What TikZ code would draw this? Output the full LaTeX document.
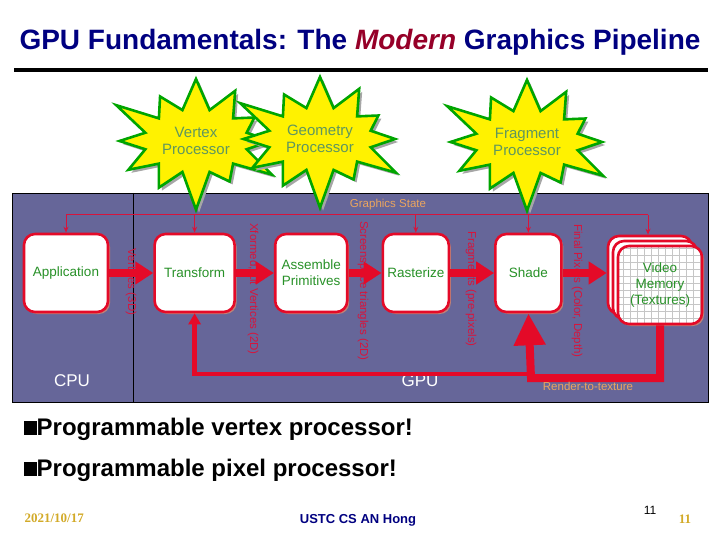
\documentclass[tikz,border=0pt]{standalone}
\usepackage{fontspec}
\setmainfont{Liberation Sans}
\newfontfamily\datefont{Liberation Serif}
\usetikzlibrary{arrows.meta,positioning,shapes.symbols,shadows}

\begin{document}
\begin{tikzpicture}[
    x=1pt, y=-1pt,
    >=Stealth,
    panel/.style={
        draw=black,
        line width=0.8pt,
        fill=panelblue,
        minimum width=696pt,
        minimum height=209pt,
        inner sep=0pt
    },
    stage/.style={
        draw=boxred,
        fill=white,
        line width=2.6pt,
        rounded corners=11pt,
        minimum width=80pt,
        minimum height=78pt,
        align=center,
        text=boxgreen,
        font=\fontsize{13.5}{16}\selectfont,
        drop shadow={shadow xshift=2pt, shadow yshift=-2pt, fill=shadowtan, opacity=1}
    },
    burst/.style={
        starburst,
        starburst points=12,
        starburst point height=42pt,
        fill=yellow,
        draw=burstgreen,
        line width=2.6pt,
        minimum width=150pt,
        minimum height=148pt,
        align=center,
        text=bursttext,
        font=\fontsize{15}{17}\selectfont,
        drop shadow={shadow xshift=3pt, shadow yshift=-3pt, fill=gray!70, opacity=1}
    },
    flowlabel/.style={
        rotate=-90,
        text=linered,
        font=\fontsize{11.5}{13}\selectfont
    },
    note/.style={
        text=noteorange,
        font=\fontsize{11.5}{13}\selectfont
    },
    bus/.style={
        draw=linered,
        line width=1pt
    },
    fatarrow/.style={
        draw=boxred,
        line width=7.5pt,
        -{Triangle[length=18pt,width=22pt]}
    },
    bullet/.style={
        anchor=west,
        font=\fontsize{24}{28}\selectfont\bfseries
    }
]

\definecolor{titlenavy}{RGB}{0,0,128}
\definecolor{modernred}{RGB}{150,0,40}
\definecolor{panelblue}{RGB}{102,102,153}
\definecolor{boxred}{RGB}{228,10,40}
\definecolor{linered}{RGB}{215,20,60}
\definecolor{boxgreen}{RGB}{40,145,40}
\definecolor{shadowtan}{RGB}{190,130,120}
\definecolor{burstgreen}{RGB}{0,165,0}
\definecolor{bursttext}{RGB}{95,150,95}
\definecolor{noteorange}{RGB}{235,165,95}
\definecolor{dategold}{RGB}{210,170,40}

\useasboundingbox (0,0) rectangle (720,540);

% title and rule
\node (title) at (360,42) {\fontsize{28}{32}\selectfont\bfseries\color{titlenavy}GPU Fundamentals: The \textcolor{modernred}{\itshape Modern} Graphics Pipeline};
\coordinate (ruleL) at (14,70);
\coordinate (ruleR) at (708,70);
\draw[line width=4pt] (ruleL) -- (ruleR);

% the board
\node[panel] (board) at (360,297.5) {};
\coordinate (divtop) at (133,193);
\coordinate (divbot) at (133,402);
\draw[line width=0.8pt] (divtop) -- (divbot);

% pipeline stages
\node[stage, minimum width=84pt] (app) at (66,273) {Application};
\node[stage, right=44pt of app] (xform) {Transform};
\node[stage, minimum width=72pt, right=38pt of xform] (assemble) {Assemble\\Primitives};
\node[stage, minimum width=66pt, right=33pt of assemble] (raster) {Rasterize};
\node[stage, minimum width=66pt, right=44pt of raster] (shade) {Shade};

\node[stage, minimum width=84pt] (vmback) at (650,275) {};
\node[stage, minimum width=84pt] (vmmid) at (655,280) {};
\node[stage, minimum width=84pt,
      path picture={\draw[gray!45, line width=0.5pt] (path picture bounding box.south west) grid[step=7pt] (path picture bounding box.north east);}]
      (vm) at (660,285) {Video\\Memory\\(Textures)};

% graphics state bus
\coordinate (busL) at (66,215);
\coordinate (busR) at (648,215);
\draw[bus] (busL) -- (busR);
\foreach \n in {app,xform,raster,shade}
    \draw[bus,-{Stealth[length=6pt,width=5pt]}] (\n.north |- busL) -- (\n.north);
\draw[bus,-{Stealth[length=6pt,width=5pt]}] (busR) -- (busR |- vmback.north);
\node[note, anchor=south] (statelbl) at (388,213) {Graphics State};

% data between stages
\node[flowlabel] (l1) at (131,282) {Vertices (3D)};
\node[flowlabel] (l2) at (253,289) {Xformed, Lit Vertices (2D)};
\node[flowlabel] (l3) at (363,291) {Screenspace triangles (2D)};
\node[flowlabel] (l4) at (471,289) {Fragments (pre-pixels)};
\node[flowlabel] (l5) at (577,291) {Final Pixels (Color, Depth)};

\draw[fatarrow] (app) -- (xform);
\draw[fatarrow] (xform) -- (assemble);
\draw[fatarrow] (assemble) -- (raster);
\draw[fatarrow] (raster) -- (shade);
\draw[fatarrow] (shade.east) -- (shade.east -| vmback.west);

% CPU / GPU
\node[text=white, font=\fontsize{17}{20}\selectfont] (cpu) at (72,381) {CPU};
\node[text=white, font=\fontsize{17}{20}\selectfont] (gpu) at (420,381) {GPU};

% texture feedback
\coordinate (fetch) at (531,374);
\coordinate (rtt) at (531,378);
\draw[draw=boxred, line width=4.5pt, -{Triangle[length=11pt,width=12pt]}] (fetch) -| (xform.south);
\draw[draw=boxred, line width=8pt, -{Triangle[length=32pt,width=30pt]}] (vm.south) |- (rtt) -- (shade.south);
\node[note] (rttlbl) at (588,386) {Render-to-texture};

% programmable units
\node[burst, shape border rotate=8] (vproc) at (196,141) {Vertex\\Processor};
\node[burst, shape border rotate=-6] (gproc) at (320,139) {Geometry\\Processor};
\node[burst, shape border rotate=14] (fproc) at (527,142) {Fragment\\Processor};

% bullets and footer
\node[bullet] (b1) at (20,429) {\rule[0.02em]{0.55em}{0.55em}Programmable vertex processor!};
\node[bullet] (b2) at (20,470) {\rule[0.02em]{0.55em}{0.55em}Programmable pixel processor!};

\node[anchor=west, text=dategold, font=\datefont\fontsize{13}{15}\selectfont\bfseries] (date) at (21,518) {2021/10/17};
\node[text=titlenavy, font=\fontsize{13}{15}\selectfont\bfseries] (author) at (358,520) {USTC CS AN Hong};
\node[font=\fontsize{12}{14}\selectfont] (pg1) at (650,510) {11};
\node[text=dategold, font=\datefont\fontsize{13}{15}\selectfont\bfseries] (pg2) at (685,519) {11};

\end{tikzpicture}
\end{document}
